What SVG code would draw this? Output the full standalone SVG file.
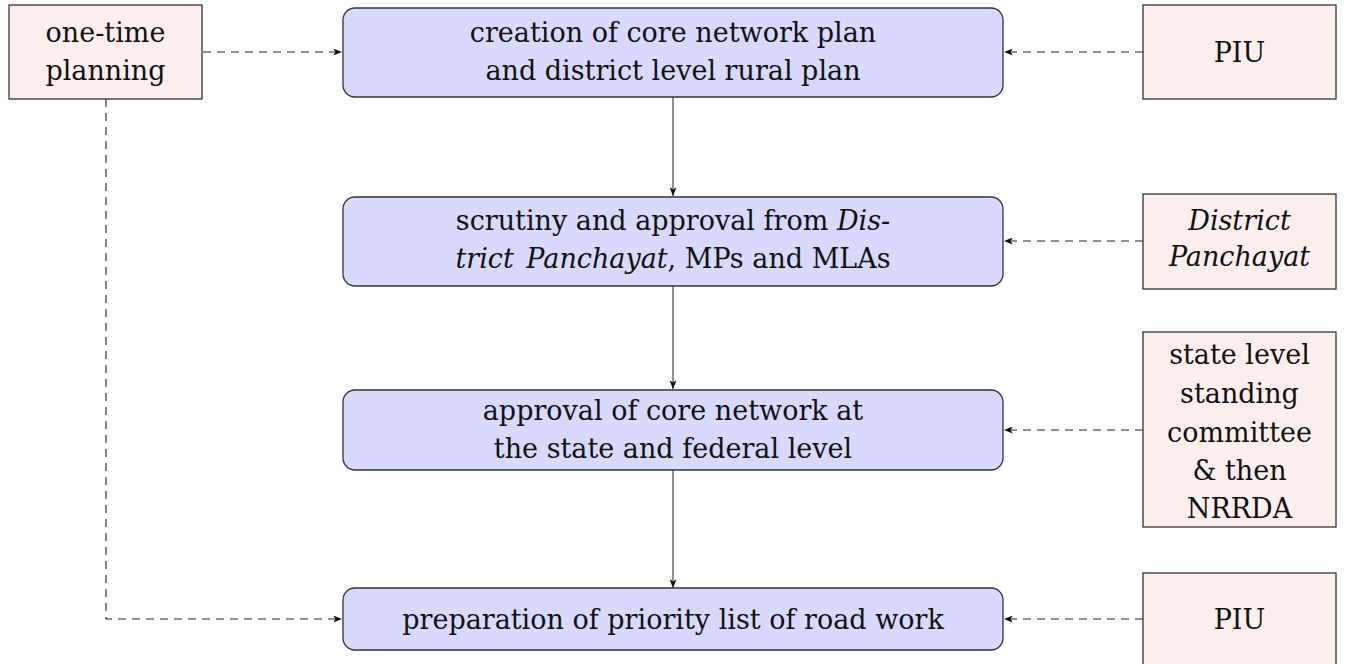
<svg xmlns="http://www.w3.org/2000/svg" width="1345" height="664" viewBox="0 0 1345 664">
<style>
  .main { fill: #d9d9ff; stroke: #333; stroke-width: 1.3; }
  .side { fill: #fdeeee; stroke: #333; stroke-width: 1.3; }
  text { font-family: "DejaVu Serif", "Liberation Serif", serif; font-size: 27px; fill: #111; text-anchor: middle; }
  .it { font-style: italic; }
  .solid { fill: none; stroke: #222; stroke-width: 1; }
  .dash { fill: none; stroke: #222; stroke-width: 1.1; stroke-dasharray: 8 6; }
</style>
<defs>
  <marker id="ah" viewBox="0 0 10 8" refX="10" refY="4" markerWidth="9" markerHeight="7" markerUnits="userSpaceOnUse" orient="auto">
    <path d="M0,0 L10,4 L0,8 L2.5,4 Z" fill="#111"/>
  </marker>
</defs>

<g id="connectors">
  <line class="solid" x1="673" y1="97" x2="673" y2="196" marker-end="url(#ah)"/>
  <line class="solid" x1="673" y1="286" x2="673" y2="389" marker-end="url(#ah)"/>
  <line class="solid" x1="673" y1="470" x2="673" y2="588" marker-end="url(#ah)"/>
  <line class="dash" x1="203" y1="52" x2="342" y2="52" marker-end="url(#ah)"/>
  <line class="dash" x1="1143" y1="52" x2="1004" y2="52" marker-end="url(#ah)"/>
  <line class="dash" x1="1143" y1="241" x2="1004" y2="241" marker-end="url(#ah)"/>
  <line class="dash" x1="1143" y1="430" x2="1004" y2="430" marker-end="url(#ah)"/>
  <line class="dash" x1="1143" y1="619" x2="1004" y2="619" marker-end="url(#ah)"/>
  <polyline class="dash" points="106,99 106,619 342,619" marker-end="url(#ah)"/>
</g>

<g id="one-time">
  <rect class="side" x="9" y="5" width="193" height="94"/>
  <text x="105.5" y="42">one-time</text>
  <text x="105.5" y="80">planning</text>
</g>

<g id="creation">
  <rect class="main" x="343" y="8" width="660" height="89" rx="12"/>
  <text x="673" y="42">creation of core network plan</text>
  <text x="673" y="80">and district level rural plan</text>
</g>

<g id="piu-top">
  <rect class="side" x="1143" y="5" width="193" height="94"/>
  <text x="1239.5" y="62">PIU</text>
</g>

<g id="scrutiny">
  <rect class="main" x="343" y="197" width="660" height="89" rx="12"/>
  <text x="673" y="230">scrutiny and approval from <tspan class="it">Dis-</tspan></text>
  <text x="673" y="268"><tspan class="it">trict <tspan dx="4">Panchayat</tspan></tspan>, MPs and MLAs</text>
</g>

<g id="district-panchayat">
  <rect class="side" x="1143" y="194" width="193" height="95"/>
  <text class="it" x="1239.5" y="230">District</text>
  <text class="it" x="1239.5" y="266">Panchayat</text>
</g>

<g id="approval">
  <rect class="main" x="343" y="390" width="660" height="80" rx="12"/>
  <text x="673" y="420">approval of core network at</text>
  <text x="673" y="458">the state and federal level</text>
</g>

<g id="state-committee">
  <rect class="side" x="1143" y="332" width="193" height="195"/>
  <text x="1239.5" y="364">state level</text>
  <text x="1239.5" y="403">standing</text>
  <text x="1239.5" y="442">committee</text>
  <text x="1239.5" y="480">&amp; then</text>
  <text x="1239.5" y="518">NRRDA</text>
</g>

<g id="preparation">
  <rect class="main" x="343" y="588" width="660" height="62" rx="12"/>
  <text x="673" y="629">preparation of priority list of road work</text>
</g>

<g id="piu-bottom">
  <rect class="side" x="1143" y="573" width="193" height="100"/>
  <text x="1239.5" y="629">PIU</text>
</g>
</svg>
